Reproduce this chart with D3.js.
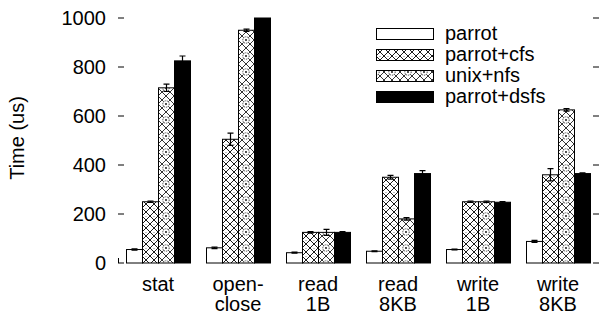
<!DOCTYPE html>
<html>
<head>
<meta charset="utf-8">
<script src="https://cdn.jsdelivr.net/npm/d3@7"></script>
<style>
  body { margin: 0; background: #fff; }
  text { font-family: "Liberation Sans", Arial, sans-serif; fill: #000; }
</style>
</head>
<body>
<svg id="chart" width="600" height="316"></svg>
<script>
var categories = ["stat", "open-\nclose", "read\n1B", "read\n8KB", "write\n1B", "write\n8KB"];
var seriesNames = ["parrot", "parrot+cfs", "unix+nfs", "parrot+dsfs"];
var parrot     = [55, 62, 42, 48, 55, 88];
var parrotCfs  = [250, 505, 125, 350, 250, 360];
var unixNfs    = [715, 950, 125, 180, 250, 625];
var parrotDsfs = [825, 1000, 125, 365, 248, 365];
var parrotErr     = [3, 3, 2, 2, 2, 4];
var parrotCfsErr  = [3, 25, 3, 8, 3, 25];
var unixNfsErr    = [15, 5, 12, 5, 3, 5];
var parrotDsfsErr = [20, 2, 3, 12, 3, 3];
var yTicks = [0, 200, 400, 600, 800, 1000];

var series = [parrot, parrotCfs, unixNfs, parrotDsfs];
var errors = [parrotErr, parrotCfsErr, unixNfsErr, parrotDsfsErr];

var svg = d3.select("#chart");

// fill patterns
var defs = svg.append("defs");
var cfs = defs.append("pattern")
	.attr("id", "pcfs").attr("patternUnits", "userSpaceOnUse")
	.attr("width", 8).attr("height", 8);
cfs.append("rect").attr("width", 8).attr("height", 8).attr("fill", "#fff");
cfs.append("path").attr("d", "M0,0L8,8M8,0L0,8")
	.attr("stroke", "#000").attr("stroke-width", 0.9);
cfs.append("rect").attr("x", 3.5).attr("y", -0.5).attr("width", 1).attr("height", 1).attr("fill", "#000");

var nfs = defs.append("pattern")
	.attr("id", "pnfs").attr("patternUnits", "userSpaceOnUse")
	.attr("width", 16).attr("height", 16);
nfs.append("rect").attr("width", 16).attr("height", 16).attr("fill", "#fff");
nfs.append("path").attr("d", "M0,0L16,16M16,0L0,16M8,0L0,8M8,0L16,8M0,8L8,16M16,8L8,16")
	.attr("stroke", "#000").attr("stroke-width", 0.8);
nfs.append("circle").attr("cx", 8).attr("cy", 8).attr("r", 3.2)
	.attr("fill", "#fff").attr("stroke", "#000").attr("stroke-width", 0.8)
	.attr("stroke-dasharray", "1,1");
nfs.append("circle").attr("cx", 8).attr("cy", 8).attr("r", 0.9).attr("fill", "#000");

var fills = ["#fff", "url(#pcfs)", "url(#pnfs)", "#000"];

var x = d3.scaleBand()
	.domain(d3.range(categories.length))
	.range([118, 598])
	.paddingInner(0.2)
	.paddingOuter(0.1);

var xs = d3.scaleBand()
	.domain(d3.range(seriesNames.length))
	.range([0, x.bandwidth()]);

var y = d3.scaleLinear().domain([0, 1000]).range([263, 18]);

// y axis ticks, left and right
var yAxis = svg.append("g");
yAxis.selectAll("line.l").data(yTicks).enter().append("line")
	.attr("x1", 118).attr("x2", 124)
	.attr("y1", function(d) { return y(d); })
	.attr("y2", function(d) { return y(d); })
	.attr("stroke", "#000");
yAxis.selectAll("line.r").data(yTicks).enter().append("line")
	.attr("x1", 593).attr("x2", 599)
	.attr("y1", function(d) { return y(d); })
	.attr("y2", function(d) { return y(d); })
	.attr("stroke", "#000");
yAxis.append("line")
	.attr("x1", 118.5).attr("x2", 118.5)
	.attr("y1", y(0) - 5).attr("y2", y(0))
	.attr("stroke", "#000");
yAxis.selectAll("text").data(yTicks).enter().append("text")
	.attr("x", 106)
	.attr("y", function(d) { return y(d) + 7; })
	.attr("text-anchor", "end")
	.attr("font-size", 20)
	.text(function(d) { return d; });

svg.append("text")
	.attr("transform", "translate(24,138) rotate(-90)")
	.attr("text-anchor", "middle")
	.attr("font-size", 20)
	.text("Time (us)");

// bars
var groups = svg.selectAll("g.grp").data(categories).enter().append("g")
	.attr("class", "grp")
	.attr("transform", function(d, i) { return "translate(" + x(i) + ",0)"; });

groups.each(function(cat, gi) {
	var g = d3.select(this);
	for (var s = 0; s < series.length; s++) {
		var v = series[s][gi];
		g.append("rect")
			.attr("x", xs(s) + 0.5)
			.attr("y", y(v))
			.attr("width", xs.bandwidth())
			.attr("height", y(0) - y(v))
			.attr("fill", fills[s])
			.attr("stroke", "#000")
			.attr("stroke-width", 1);
		var e = errors[s][gi];
		if (v < 1000) {
			var cx = xs(s) + xs.bandwidth() / 2 + 0.5;
			g.append("path")
				.attr("d", "M" + (cx - 3) + "," + y(v + e) + "H" + (cx + 3) +
					"M" + cx + "," + y(v + e) + "V" + y(v - e) +
					"M" + (cx - 3) + "," + y(v - e) + "H" + (cx + 3))
				.attr("stroke", "#000")
				.attr("stroke-width", 1.2)
				.attr("fill", "none");
		}
	}
	// two-line labels as separate texts
	cat.split("\n").forEach(function(l, li) {
		g.append("text")
			.attr("x", x.bandwidth() / 2)
			.attr("y", 291 + li * 20)
			.attr("text-anchor", "middle")
			.attr("font-size", 20)
			.text(l);
	});
});

// legend
var legend = svg.append("g");
seriesNames.forEach(function(name, i) {
	var ly = 28 + i * 21;
	legend.append("rect")
		.attr("x", 376.5).attr("y", ly + 0.5)
		.attr("width", 57).attr("height", 11)
		.attr("fill", fills[i])
		.attr("stroke", "#000");
	legend.append("text")
		.attr("x", 445).attr("y", ly + 12)
		.attr("font-size", 20)
		.text(name);
});
</script>
</body>
</html>
